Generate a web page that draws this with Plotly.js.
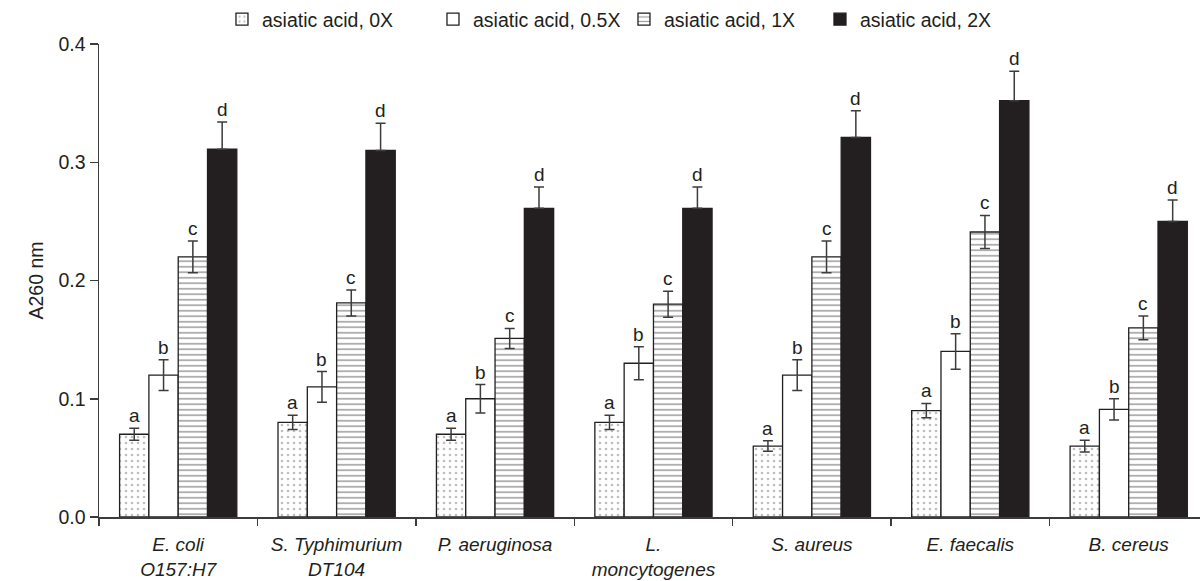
<!DOCTYPE html>
<html>
<head>
<meta charset="utf-8">
<script src="https://cdn.plot.ly/plotly-3.0.1.min.js"></script>
<style>html,body{margin:0;padding:0;background:#fff;}#chart{width:1200px;height:581px;}</style>
</head>
<body>
<div id="chart"></div>
<script>
const categories = ["E. coli<br>O157:H7", "S. Typhimurium<br>DT104", "P. aeruginosa", "L.<br>moncytogenes", "S. aureus", "E. faecalis", "B. cereus"];
const seriesNames = ["asiatic acid, 0X", "asiatic acid, 0.5X", "asiatic acid, 1X", "asiatic acid, 2X"];
const val0X  = [0.070, 0.080, 0.070, 0.080, 0.060, 0.090, 0.060];
const err0X  = [0.005, 0.006, 0.005, 0.006, 0.0045, 0.006, 0.005];
const val05X = [0.120, 0.110, 0.100, 0.130, 0.120, 0.140, 0.091];
const err05X = [0.013, 0.013, 0.012, 0.014, 0.013, 0.015, 0.009];
const val1X  = [0.220, 0.181, 0.151, 0.180, 0.220, 0.241, 0.160];
const err1X  = [0.0135, 0.011, 0.0085, 0.011, 0.0135, 0.014, 0.010];
const val2X  = [0.311, 0.310, 0.261, 0.261, 0.321, 0.352, 0.250];
const err2X  = [0.023, 0.023, 0.018, 0.018, 0.0225, 0.025, 0.018];
const letters0X  = ["a","a","a","a","a","a","a"];
const letters05X = ["b","b","b","b","b","b","b"];
const letters1X  = ["c","c","c","c","c","c","c"];
const letters2X  = ["d","d","d","d","d","d","d"];

const values = [val0X, val05X, val1X, val2X];
const errors = [err0X, err05X, err1X, err2X];
const letters = [letters0X, letters05X, letters1X, letters2X];

const ink = "#231f20";
const lineCol = "#3c3c3c";
const FS = 19.5;
const styles = [
  {color: "#ffffff", pattern: {shape: ".", fgcolor: "#808080", bgcolor: "#ffffff", size: 6, solidity: 0.16, fillmode: "overlay"}},
  {color: "#ffffff", pattern: {shape: ""}},
  {color: "#ffffff", pattern: {shape: "-", fgcolor: "#262626", bgcolor: "#ffffff", size: 5.5, solidity: 0.25, fillmode: "overlay"}},
  {color: ink, pattern: {shape: ""}}
];
const legendWidths = [166, 146, 151, 140];

const bargap = 0.26;
const nSeries = 4;
const barW = (1 - bargap) / nSeries;

const traces = values.map((v, k) => ({
  type: "bar",
  name: seriesNames[k],
  x: categories,
  y: v,
  legendwidth: legendWidths[k],
  marker: {color: styles[k].color, pattern: styles[k].pattern, line: {color: ink, width: 1.3}},
  error_y: {
    type: "data", symmetric: false,
    array: errors[k],
    arrayminus: k === 3 ? errors[k].map(() => 0) : errors[k],
    color: lineCol, thickness: 1.5, width: 5
  },
  hoverinfo: "skip"
}));

const annotations = [];
values.forEach((v, k) => {
  v.forEach((val, i) => {
    annotations.push({
      x: i + (k - (nSeries - 1) / 2) * barW,
      y: val + errors[k][i],
      xref: "x", yref: "y",
      text: letters[k][i],
      showarrow: false,
      yanchor: "bottom",
      yshift: 0,
      font: {family: "Liberation Sans, Arial, sans-serif", size: 19, color: ink}
    });
  });
});

const layout = {
  width: 1200, height: 581,
  margin: {l: 99, r: 0, t: 43, b: 64},
  paper_bgcolor: "#ffffff", plot_bgcolor: "#ffffff",
  font: {family: "Liberation Sans, Arial, sans-serif", size: FS, color: ink},
  barmode: "group", bargap: bargap, bargroupgap: 0,
  showlegend: true,
  legend: {
    orientation: "h", x: 0.1117, xanchor: "left", y: 1.0925, yanchor: "top",
    font: {size: FS, color: ink}, entrywidthmode: "pixels",
    itemwidth: 30, tracegroupgap: 0, bgcolor: "rgba(0,0,0,0)"
  },
  xaxis: {
    type: "category", range: [-0.5, 6.45],
    showline: true, linecolor: lineCol, linewidth: 1.5,
    ticks: "outside", tickson: "boundaries", ticklen: 7, tickwidth: 1.5, tickcolor: lineCol,
    showgrid: false, zeroline: false, ticklabelstandoff: 10,
    tickfont: {size: 19, style: "italic", color: ink}
  },
  yaxis: {
    range: [0, 0.4], dtick: 0.1, tick0: 0, tickformat: ".1f",
    showline: true, linecolor: lineCol, linewidth: 1.5,
    ticks: "outside", ticklen: 8, tickwidth: 1.5, tickcolor: lineCol,
    showgrid: false, zeroline: false,
    tickfont: {size: FS, color: ink},
    title: {text: "A260 nm", font: {size: FS, color: ink}, standoff: 9}
  },
  annotations: annotations
};

Plotly.newPlot("chart", traces, layout, {displayModeBar: false, staticPlot: true});
</script>
</body>
</html>
